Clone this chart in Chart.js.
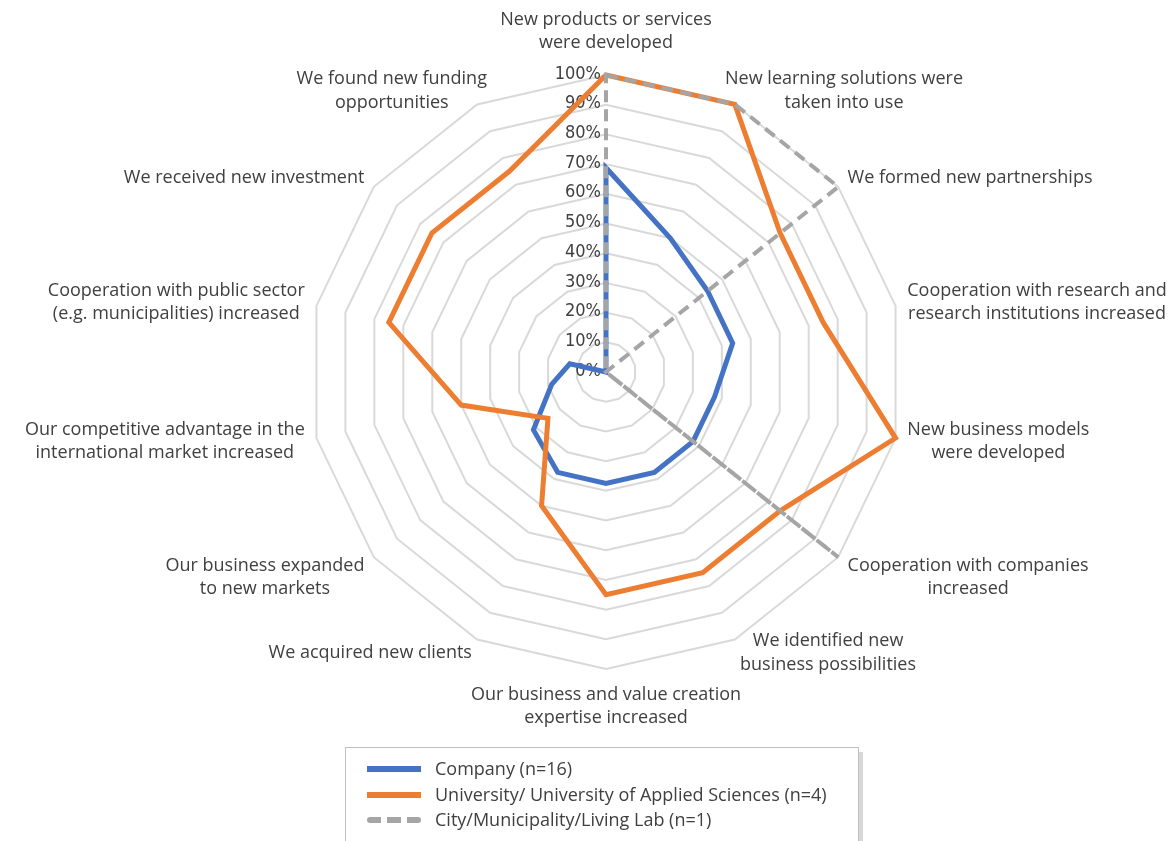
<!DOCTYPE html>
<html>
<head>
<meta charset="utf-8">
<script src="https://cdn.jsdelivr.net/npm/chart.js@4.4.1/dist/chart.umd.min.js"></script>
<style>
  html, body { margin: 0; padding: 0; background: #fff; }
  #wrap { position: relative; width: 1168px; height: 841px; overflow: hidden; }
  #legend {
    position: absolute; left: 345px; top: 747px; width: 512px; height: 120px;
    border: 1px solid #bfbfbf; background: #fff;
    box-shadow: 4px 5px 0 #d9d9d9;
    font-family: 'Open Sans', sans-serif; font-size: 18px; color: #404040;
  }
  .item { position: absolute; left: 0; height: 24px; line-height: 24px; white-space: nowrap; }
  .item .swatch { position: absolute; left: 21px; top: 9px; width: 54px; height: 6px; }
  .item span { position: absolute; left: 89px; top: -1px; }
</style>
</head>
<body>
<div id="wrap">
  <canvas id="radarChart" width="1168" height="841"></canvas>
  <div id="legend"></div>
</div>
<script>
// Categories, clockwise from the top
const categories = [
    ['New products or services', 'were developed'],
    ['New learning solutions were', 'taken into use'],
    ['We formed new partnerships'],
    ['Cooperation with research and', 'research institutions increased'],
    ['New business models', 'were developed'],
    ['Cooperation with companies', 'increased'],
    ['We identified new', 'business possibilities'],
    ['Our business and value creation', 'expertise increased'],
    ['We acquired new clients'],
    ['Our business expanded', 'to new markets'],
    ['Our competitive advantage in the', 'international market increased'],
    ['Cooperation with public sector', '(e.g. municipalities) increased'],
    ['We received new investment'],
    ['We found new funding', 'opportunities']
];

// Share of respondents (%)
const company = [68.75, 50, 43.75, 43.75, 37.5, 37.5, 37.5, 37.5, 37.5, 31.25, 18.75, 12.5, 0, 0];
const university = [100, 100, 75, 75, 100, 75, 75, 75, 50, 25, 50, 75, 75, 75];
const city = [100, 100, 100, 0, 0, 100, 0, 0, 0, 0, 0, 0, 0, 0];

const seriesNames = ['Company (n=16)', 'University/ University of Applied Sciences (n=4)', 'City/Municipality/Living Lab (n=1)'];

const textColor = '#404040';
const labelFont = "18px 'Open Sans', sans-serif";
const labelLineHeight = 23.5;
const tickFont = "18px 'Liberation Sans Narrow', 'DejaVu Sans Condensed', sans-serif";

// Percent labels, right-aligned against the vertical axis
const tickLabels = {
    id: 'tickLabels',
    beforeDatasetsDraw(chart) {
        const scale = chart.scales.r;
        const ctx = chart.ctx;
        ctx.save();
        ctx.font = tickFont;
        ctx.fillStyle = textColor;
        ctx.textAlign = 'right';
        ctx.textBaseline = 'middle';
        scale.ticks.forEach(t => {
            const d = scale.getDistanceFromCenterForValue(t.value);
            ctx.fillText(t.value + '%', scale.xCenter - 5, scale.yCenter - d - 1);
        });
        ctx.restore();
    }
};

// Category labels around the outer ring, lines centred inside each block
const outerLabels = {
    id: 'outerLabels',
    afterDatasetsDraw(chart) {
        const scale = chart.scales.r;
        const ctx = chart.ctx;
        ctx.save();
        ctx.font = labelFont;
        ctx.fillStyle = textColor;
        ctx.textAlign = 'center';
        ctx.textBaseline = 'middle';
        categories.forEach((lines, i) => {
            const a = scale.getIndexAngle(i);
            const p = scale.getPointPosition(i, scale.drawingArea);
            const s = Math.sin(a), c = Math.cos(a);
            const w = Math.max(...lines.map(l => ctx.measureText(l).width));
            const h = lines.length * labelLineHeight;
            // labels close to the top lean back towards the axis
            const lean = c > 0.8 ? 15 : 0;
            let cx = p.x;
            if (s > 0.05) cx = p.x + s * 12 - lean + w / 2;
            else if (s < -0.05) cx = p.x + s * 12 + lean - w / 2;
            let cy = p.y - c * 15;
            // lower diagonal labels sit a little further down
            if (c < -0.3 && c > -0.8) cy += 11;
            if (Math.abs(s) < 0.05) cy -= Math.sign(c) * (h / 2 + (c > 0 ? 5 : -1));
            lines.forEach((l, k) => {
                ctx.fillText(l, cx, cy - h / 2 + labelLineHeight * (k + 0.5));
            });
        });
        ctx.restore();
    }
};

const ctx = document.getElementById('radarChart').getContext('2d');
new Chart(ctx, {
    type: 'radar',
    data: {
        labels: categories,
        datasets: [{
            label: seriesNames[0],
            data: company,
            borderColor: '#4472c4',
            borderWidth: 5,
            order: 2
        }, {
            label: seriesNames[1],
            data: university,
            borderColor: '#ed7d31',
            borderWidth: 5,
            order: 1
        }, {
            label: seriesNames[2],
            data: city,
            borderColor: '#a5a5a5',
            borderWidth: 4,
            borderDash: [12, 7],
            order: 0
        }]
    },
    options: {
        responsive: false,
        animation: false,
        layout: { padding: { left: 309, right: 265, top: 75, bottom: 172 } },
        elements: {
            line: { tension: 0, fill: false, borderJoinStyle: 'miter' },
            point: { radius: 0, hoverRadius: 0 }
        },
        plugins: { legend: { display: false }, tooltip: { enabled: false } },
        scales: {
            r: {
                min: 0,
                max: 100,
                ticks: { stepSize: 10, display: false },
                grid: { color: '#d9d9d9', lineWidth: 2 },
                angleLines: { display: false },
                pointLabels: { display: false }
            }
        }
    },
    plugins: [tickLabels, outerLabels]
});

// Legend box below the chart
const legendStyles = [
    'background:#4472c4',
    'background:#ed7d31',
    'background:repeating-linear-gradient(to right,#a5a5a5 0 14px,transparent 14px 20px);border-radius:3px'
];
const legend = document.getElementById('legend');
seriesNames.forEach((name, i) => {
    const row = document.createElement('div');
    row.className = 'item';
    row.style.top = (9 + i * 25.5) + 'px';
    row.innerHTML = '<div class="swatch" style="' + legendStyles[i] + '"></div><span>' + name + '</span>';
    legend.appendChild(row);
});
</script>
</body>
</html>
